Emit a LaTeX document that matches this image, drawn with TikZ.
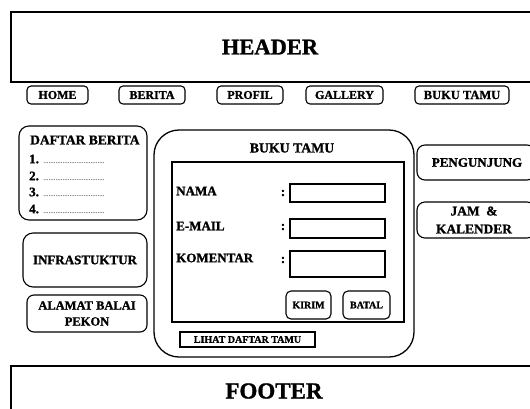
\documentclass[tikz,border=0pt]{standalone}
\usepackage{fontspec}
\setmainfont{Liberation Serif}[BoldFeatures={FakeBold=1.2}]
\newcommand\dotrow{{\fontsize{7}{7}\selectfont\mdseries ...................................}}
\begin{document}
\begin{tikzpicture}[x=1pt,y=-1pt,
  box/.style={draw,line width=1.1pt,inner sep=0pt,font=\bfseries\fontsize{12}{14}\selectfont,align=center},
  rbox/.style={box,rounded corners=#1},
  sz/.style 2 args={minimum width=#1,minimum height=#2},
  lbl/.style={inner sep=0pt,font=\bfseries\fontsize{13}{14}\selectfont},
  navfont/.style={font=\bfseries\fontsize{12}{12}\selectfont},
  btnfont/.style={font=\bfseries\fontsize{10}{10}\selectfont},
]
\useasboundingbox (0,0) rectangle (530,408);
\clip (0,0) rectangle (530,408);
\fill[white] (0,0) rectangle (530,408);
% header and footer
\node[box,sz={524pt}{70pt}] (header) at (273,47) {};
\node[lbl,font=\bfseries\fontsize{22.5}{26}\selectfont] (headert) at (270,47) {HEADER};
\node[box,sz={524pt}{54pt}] (footer) at (273,393) {};
\node[lbl,font=\bfseries\fontsize{23}{26}\selectfont] (footert) at (274,391) {FOOTER};
% navigation
\node[rbox=4pt,sz={61pt}{18pt},navfont] (home) at (57.5,95) {HOME};
\node[rbox=4pt,sz={66pt}{18pt},navfont] (berita) at (152,95) {BERITA};
\node[rbox=4pt,sz={66pt}{18pt},navfont] (profil) at (250,95) {PROFIL};
\node[rbox=4pt,sz={77pt}{18pt},navfont] (gallery) at (344.5,95) {GALLERY};
\node[rbox=4pt,sz={94pt}{18pt},font=\bfseries\fontsize{12.5}{12}\selectfont] (bukutamu) at (462,95) {BUKU TAMU};
% left column
\node[rbox=10pt,sz={128pt}{94pt}] (daftar) at (83,173) {};
\node[lbl,anchor=west,font=\bfseries\fontsize{13.5}{14}\selectfont] (daftart) at (30,140) {DAFTAR BERITA};
\node[lbl,anchor=west] (d1) at (29,159) {1. \dotrow};
\node[lbl,anchor=west] (d2) at (29,176) {2. \dotrow};
\node[lbl,anchor=west] (d3) at (29,192) {3. \dotrow};
\node[lbl,anchor=west] (d4) at (29,209) {4. \dotrow};
\node[rbox=10pt,sz={124pt}{54pt},font=\bfseries\fontsize{13}{14}\selectfont] (infra) at (85,260) {INFRASTUKTUR};
\node[rbox=7pt,sz={120pt}{37pt},font=\bfseries\fontsize{12.5}{16}\selectfont] (alamat) at (87,313.5) {ALAMAT BALAI\\PEKON};
% main form
\node[rbox=25pt,sz={260pt}{227pt},line width=1.3pt] (main) at (284,243.5) {};
\node[lbl,font=\bfseries\fontsize{13.8}{14}\selectfont] (maint) at (292,148) {BUKU TAMU};
\node[box,sz={232pt}{160pt}] (inner) at (288,242) {};
\node[lbl,anchor=west] (nama) at (176,191) {NAMA};
\node[lbl,anchor=west] (email) at (176,226) {E-MAIL};
\node[lbl,anchor=west] (koment) at (176,258) {KOMENTAR};
\node[lbl] (c1) at (283,193) {:};
\node[lbl] (c2) at (283,227) {:};
\node[lbl] (c3) at (283,260) {:};
\node[box,sz={95pt}{18pt}] (in1) at (337.5,193) {};
\node[box,sz={95pt}{19pt}] (in2) at (337.5,228.5) {};
\node[box,sz={95pt}{26pt}] (in3) at (337.5,264) {};
\node[rbox=5pt,sz={45pt}{28pt},btnfont] (kirim) at (308.5,305) {KIRIM};
\node[rbox=5pt,sz={47pt}{28pt},btnfont] (batal) at (366.5,305) {BATAL};
\node[box,sz={135pt}{15pt},btnfont] (lihat) at (247.5,339.5) {LIHAT DAFTAR TAMU};
% right column
\node[rbox=8pt,sz={118pt}{35pt}] (peng) at (476,162.5) {};
\node[lbl] (pengt) at (477,162.5) {PENGUNJUNG};
\node[rbox=8pt,sz={118pt}{36pt}] (jam) at (476,220) {};
\node[lbl,align=center,font=\bfseries\fontsize{13.4}{18}\selectfont] (jamt) at (474,220) {JAM~~\&\\KALENDER};
\end{tikzpicture}
\end{document}
